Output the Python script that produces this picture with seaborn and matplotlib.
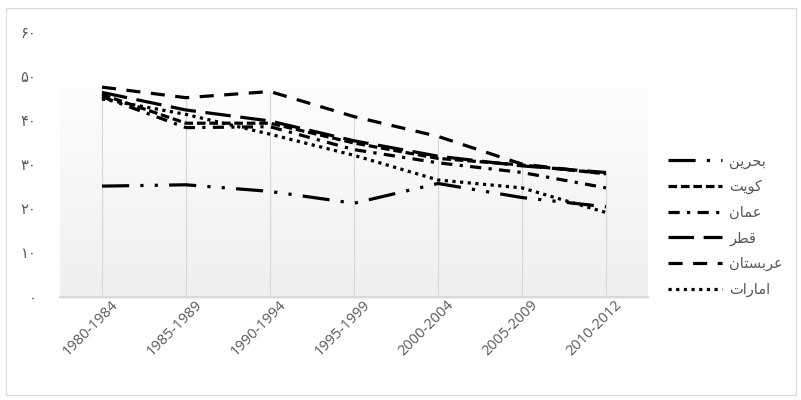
import numpy as np
import pandas as pd
import matplotlib
matplotlib.use('Agg')
import matplotlib.pyplot as plt
import seaborn as sns
from matplotlib.patches import Rectangle
from matplotlib.colors import LinearSegmentedColormap
from matplotlib.transforms import ScaledTranslation

# ---------------- data ----------------
periods = ['1980-1984', '1985-1989', '1990-1994', '1995-1999',
           '2000-2004', '2005-2009', '2010-2012']
countries = ['بحرين', 'كويت', 'عمان', 'قطر', 'عربستان', 'امارات']
bahrain = [25.2, 25.5, 24.0, 21.3, 25.8, 22.6, 20.5]
kuwait = [46.0, 39.5, 39.5, 35.0, 31.5, 30.0, 28.0]
oman = [45.5, 38.5, 38.7, 33.5, 30.5, 28.3, 24.8]
qatar = [46.5, 42.5, 40.0, 35.5, 32.0, 29.8, 28.3]
saudi = [47.7, 45.3, 46.7, 41.0, 36.5, 30.2, 28.0]
emirates = [45.0, 41.5, 37.0, 32.2, 26.6, 24.8, 19.2]
y_ticks = [0, 10, 20, 30, 40, 50, 60]
y_tick_labels = ['۰', '۱۰', '۲۰', '۳۰', '۴۰', '۵۰', '۶۰']

series = [bahrain, kuwait, oman, qatar, saudi, emirates]
df = pd.DataFrame({
    'period': periods * len(countries),
    'country': [c for c in countries for _ in periods],
    'value': [v for s in series for v in s],
})

# ------------- minimal Arabic shaping for display -------------
FORMS = {
    'ا': ('\uFE8D', '\uFE8E', None, None),
    'ب': ('\uFE8F', '\uFE90', '\uFE91', '\uFE92'),
    'ت': ('\uFE95', '\uFE96', '\uFE97', '\uFE98'),
    'ح': ('\uFEA1', '\uFEA2', '\uFEA3', '\uFEA4'),
    'ر': ('\uFEAD', '\uFEAE', None, None),
    'س': ('\uFEB1', '\uFEB2', '\uFEB3', '\uFEB4'),
    'ط': ('\uFEC1', '\uFEC2', '\uFEC3', '\uFEC4'),
    'ع': ('\uFEC9', '\uFECA', '\uFECB', '\uFECC'),
    'ق': ('\uFED5', '\uFED6', '\uFED7', '\uFED8'),
    'ك': ('\uFED9', '\uFEDA', '\uFEDB', '\uFEDC'),
    'م': ('\uFEE1', '\uFEE2', '\uFEE3', '\uFEE4'),
    'ن': ('\uFEE5', '\uFEE6', '\uFEE7', '\uFEE8'),
    'و': ('\uFEED', '\uFEEE', None, None),
    'ي': ('\uFEF1', '\uFEF2', '\uFEF3', '\uFEF4'),
}


def shape(word):
    out = []
    for i, c in enumerate(word):
        iso, fin, ini, med = FORMS[c]
        pj = i > 0 and FORMS[word[i - 1]][2] is not None
        nj = i < len(word) - 1 and ini is not None
        out.append(med if (pj and nj) else fin if pj else ini if nj else iso)
    return ''.join(reversed(out))


# ---------------- style ----------------
sns.set_theme(style='white')
plt.rcParams['font.family'] = ['Open Sans', 'DejaVu Sans']

W, H = 801, 400
fig = plt.figure(figsize=(W / 100, H / 100), dpi=100)

# chart border
fig.patches.append(Rectangle((6 / W, 5 / H), 790 / W, 387 / H, transform=fig.transFigure,
                             fill=False, ec='#d9d9d9', lw=0.8))

# plot-area gradient (behind)
bg = fig.add_axes([60 / W, (H - 299) / H, 588 / W, 236 / H], zorder=0)
cmap = LinearSegmentedColormap.from_list('g', ['#ffffff', '#efefef'])
bg.imshow(np.linspace(0, 1, 256).reshape(-1, 1), cmap=cmap, aspect='auto',
          extent=(0, 1, 1, 0))
bg.set_axis_off()

ax = fig.add_axes([60 / W, (H - 297) / H, 588 / W, 264 / H], zorder=1)
ax.set_facecolor('none')

dashes = {
    'بحرين': (8.5, 3.5, 1, 3.5, 1, 3.5),
    'كويت': (2.7, 1.2),
    'عمان': (3.5, 2.3, 1, 2.3),
    'قطر': (8, 3),
    'عربستان': (4.4, 3.3),
    'امارات': (1, 1.4),
}

sns.lineplot(data=df, x='period', y='value', style='country', style_order=countries,
             dashes=dashes, color='black', lw=2.3, legend=False, ax=ax, zorder=3)

# drop lines
maxes = [max(vals) for vals in zip(*series)]
ax.vlines(periods, 0, maxes, color='#d6d6d6', lw=0.8, zorder=2)

ax.set_xlim(-0.5, 6.5)
ax.set_ylim(0, 60)
ax.set_yticks(y_ticks)
ax.set_yticklabels(y_tick_labels)
ax.set_xlabel('')
ax.set_ylabel('')
for s in ['top', 'right', 'left']:
    ax.spines[s].set_visible(False)
ax.spines['bottom'].set_color('#d9d9d9')
ax.spines['bottom'].set_linewidth(1.5)
ax.tick_params(axis='both', length=0, colors='#595959', labelsize=10.5)
ax.tick_params(axis='y', pad=17)
ax.tick_params(axis='x', pad=4)
for lab in ax.get_xticklabels():
    lab.set_rotation(45)
    lab.set_ha('right')
    lab.set_va('center')
    lab.set_rotation_mode('anchor')
    lab.set_transform(lab.get_transform() + ScaledTranslation(14 / 100, 0, fig.dpi_scale_trans))

leg = ax.legend(handles=ax.lines[:len(countries)], labels=[shape(c) for c in countries],
                loc='center left', bbox_to_anchor=(668 / W, 1 - 226 / H),
                bbox_transform=fig.transFigure, frameon=False, fontsize=10.5,
                handlelength=3.7, handletextpad=0.5, labelspacing=0.73,
                borderpad=0, borderaxespad=0)
for t in leg.get_texts():
    t.set_color('#595959')

fig.savefig('out.png', dpi=100)
